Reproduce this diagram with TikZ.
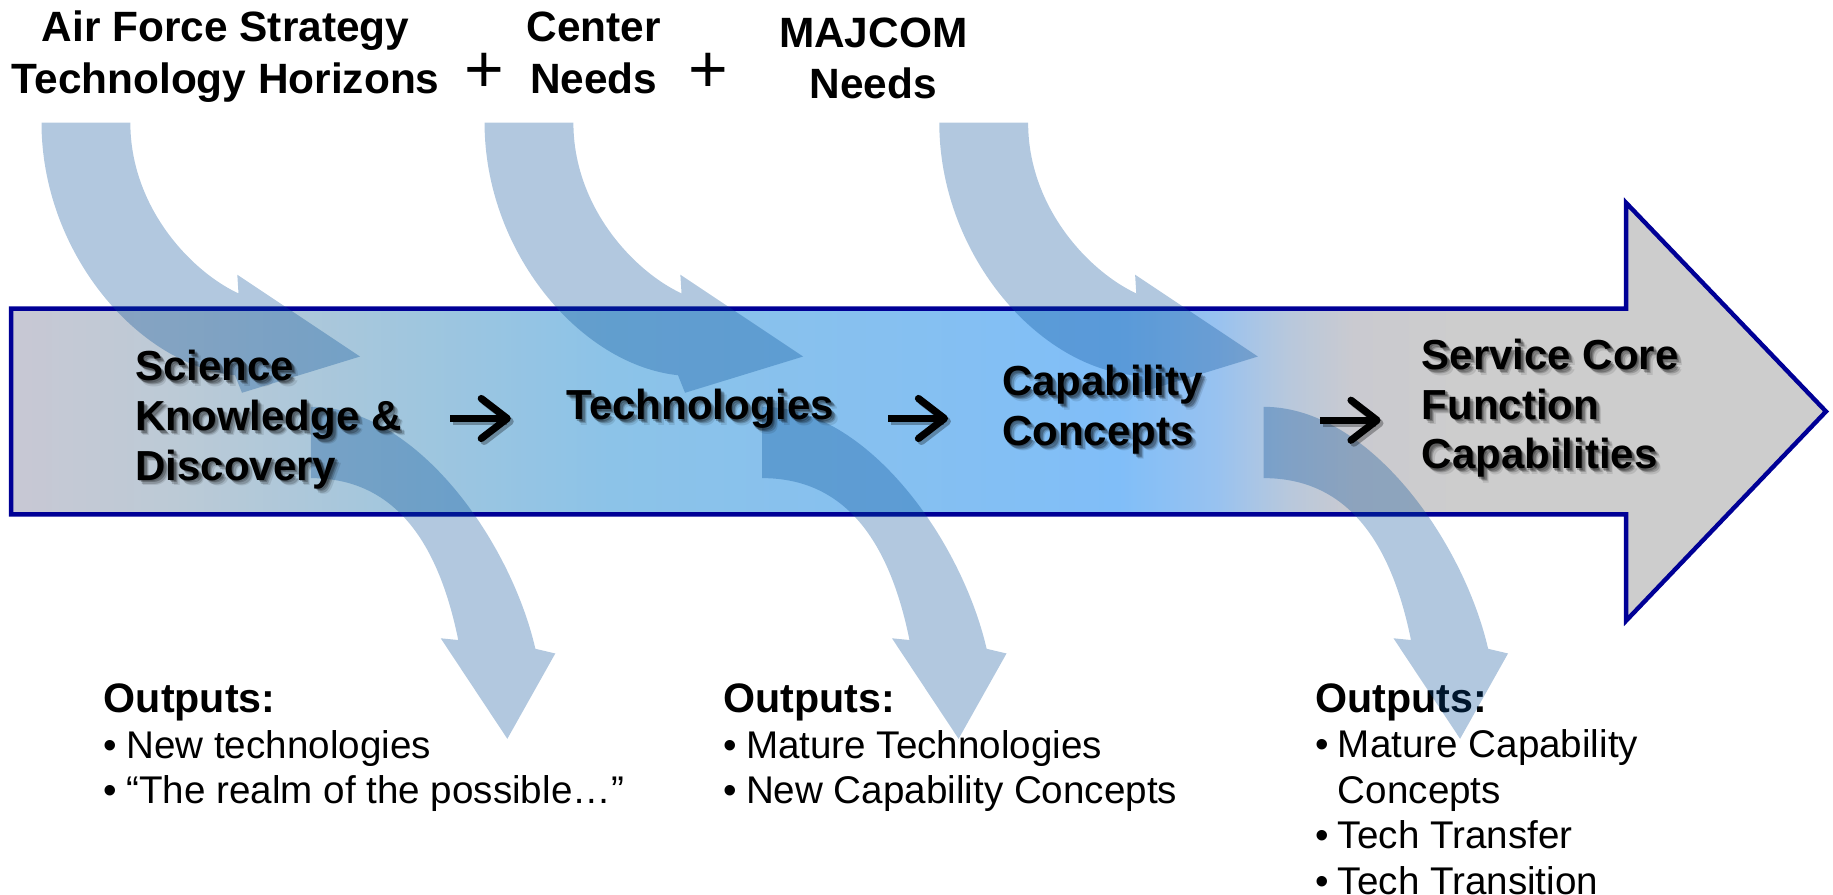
\documentclass[tikz,border=0pt]{standalone}
\usepackage{fontspec}
\setmainfont{Liberation Sans}
\usetikzlibrary{calc,arrows.meta}
\definecolor{navyline}{RGB}{0,0,150}
\definecolor{arrowblue}{RGB}{0,74,148}
\definecolor{sA}{RGB}{200,200,212}
\definecolor{sB}{RGB}{188,202,214}
\definecolor{sC}{RGB}{160,198,222}
\definecolor{sD}{RGB}{140,195,232}
\definecolor{sE}{RGB}{134,192,240}
\definecolor{sF}{RGB}{128,190,248}
\definecolor{sG}{RGB}{152,194,240}
\definecolor{sH}{RGB}{184,200,220}
\definecolor{sI}{RGB}{202,202,208}
\definecolor{sJ}{RGB}{205,205,205}
\pgfdeclarehorizontalshading{bigarrowshade}{100bp}{color(0bp)=(sA); color(25bp)=(sA); color(29.5bp)=(sB); color(36bp)=(sC); color(41.5bp)=(sD); color(49bp)=(sE); color(55.5bp)=(sF); color(58.2bp)=(sG); color(60.2bp)=(sH); color(62bp)=(sI); color(65bp)=(sJ); color(100bp)=(sJ)}
\tikzset{
  flowarrow/.style={fill=arrowblue, fill opacity=0.3},
  inarrow/.pic={\fill[flowarrow] (0,0) -- (76,0) .. controls (76,72) and (127.7,127) .. (168.5,146) -- (167.5,130) -- (272.5,200) -- (171.5,231) -- (165.5,216) .. controls (81.5,207) and (0,110) .. (0,0) -- cycle;},
  outarrow/.pic={\fill[flowarrow] (0,0) .. controls (90,0) and (170.6,114.5) .. (192,207) -- (209,211) -- (168,284) -- (111,198) -- (126,199.5) .. controls (110,121) and (75,61) .. (0,61) -- cycle;},
  titletext/.style={font=\fontsize{21.2pt}{25.9pt}\selectfont\bfseries, align=center, inner sep=0pt},
  plussign/.style={font=\fontsize{34pt}{34pt}\selectfont, anchor=base, inner sep=0pt},
  boxlabel/.style={font=\fontsize{21pt}{24.8pt}\selectfont\bfseries, align=left, anchor=west, inner sep=0pt},
  outblock/.style={font=\fontsize{19.3pt}{22.8pt}\selectfont, anchor=north west, inner sep=0pt},
  stagearrow/.style={line width=3.6pt, -{Straight Barb[length=13pt,width=20pt,round]}},
}
\newcommand\shadowlabel[3]{%
  \foreach \k/\dd/\oo in {1/1.0/0.25,2/2.2/0.24,3/3.4/0.18,4/4.6/0.1}{%
    \node[boxlabel,text=black,text opacity=\oo] (#1-sh\k) at ($#2+(\dd,\dd)$) {#3};}%
  \node[boxlabel] (#1) at #2 {#3};}
\newcommand\outhead{\multicolumn{2}{@{}l@{}}{\fontsize{20.6pt}{22.8pt}\selectfont\bfseries Outputs:}}
\begin{document}
\begin{tikzpicture}[x=0.5846pt, y=-0.5846pt]
\useasboundingbox (0,0) rectangle (1568,765);
% big arrow
\path[draw=navyline, line width=2.2pt, line join=miter, shading=bigarrowshade]
  (9.5,264) -- (1391,264) -- (1391,173.5) -- (1562,352) -- (1391,531) -- (1391,440) -- (9.5,440) -- cycle;
% outputs
\node[outblock] (out1) at (88.5,582) {\begin{tabular}{@{}l@{\hspace{4.5pt}}l@{}}\outhead\\ • & New technologies\\ • & “The realm of the possible…”\end{tabular}};
\node[outblock] (out2) at (618.6,582) {\begin{tabular}{@{}l@{\hspace{4.5pt}}l@{}}\outhead\\ • & Mature Technologies\\ • & New Capability Concepts\end{tabular}};
\node[outblock] (out3) at (1124.9,581.5) {\begin{tabular}{@{}l@{\hspace{4.5pt}}l@{}}\outhead\\ • & Mature Capability\\ & Concepts\\ • & Tech Transfer\\ • & Tech Transition\end{tabular}};
% curved arrows
\pic at (35.5,105) {inarrow};
\pic at (414.5,105) {inarrow};
\pic at (803.5,105) {inarrow};
\pic at (266,348) {outarrow};
\pic at (652,348) {outarrow};
\pic at (1081,348) {outarrow};
% stage labels
\shadowlabel{sci}{(115.6,359)}{Science\\Knowledge \&\\Discovery}
\shadowlabel{tech}{(484.3,350)}{Technologies}
\shadowlabel{cap}{(857,350.6)}{Capability\\Concepts}
\shadowlabel{scf}{(1216,349.4)}{Service Core\\Function\\Capabilities}
% stage arrows
\coordinate (a1s) at (385,358); \coordinate (a1e) at (437,358);
\coordinate (a2s) at (760,358); \coordinate (a2e) at (811,358);
\coordinate (a3s) at (1129,359.5); \coordinate (a3e) at (1181,359.5);
\foreach \s/\e in {a1s/a1e,a2s/a2e,a3s/a3e}{
  \draw[stagearrow, draw=black, draw opacity=0.3, transform canvas={shift={(2.5,2.5)}}] (\s) -- (\e);
  \draw[stagearrow] (\s) -- (\e);}
% titles
\node[titletext] (afs) at (193,48.6) {Air Force Strategy\\Technology Horizons};
\node[plussign] (plus1) at (414,78.9) {+};
\node[titletext] (center) at (508,45) {Center\\Needs};
\node[plussign] (plus2) at (606,78.9) {+};
\node[titletext] (majcom) at (747,50) {MAJCOM\\Needs};
\end{tikzpicture}
\end{document}
